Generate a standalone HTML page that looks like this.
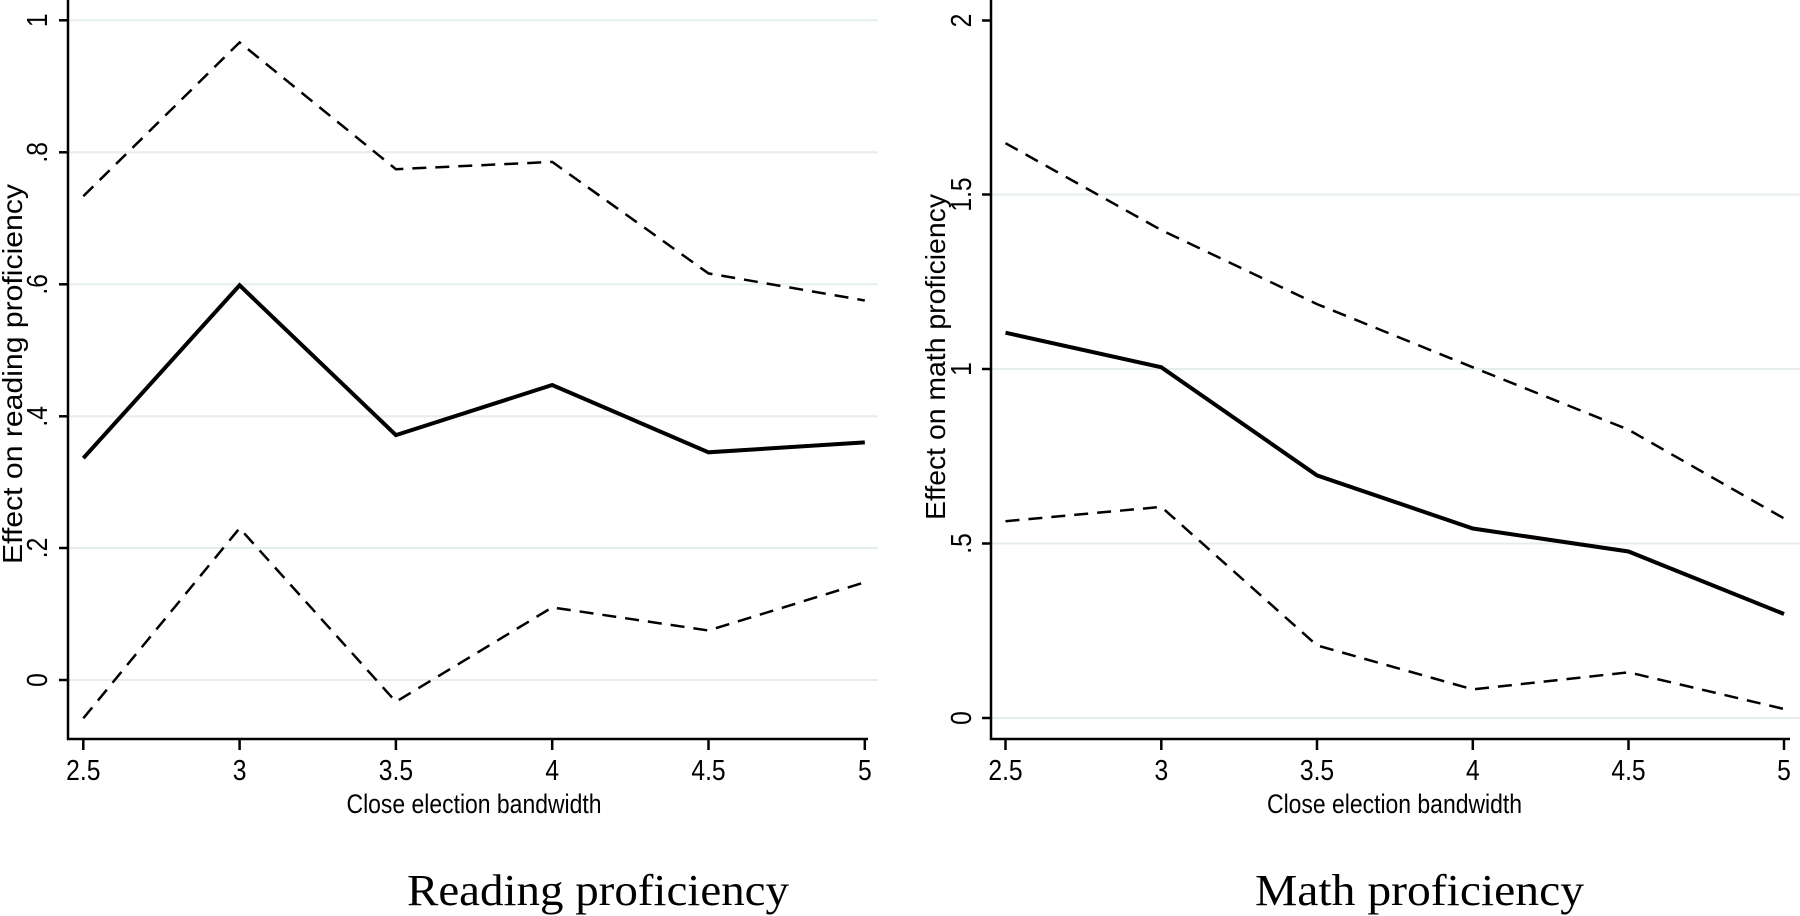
<!DOCTYPE html>
<html><head><meta charset="utf-8"><style>html,body{margin:0;padding:0;background:#fff}svg{display:block}</style></head>
<body>
<svg width="1800" height="916" viewBox="0 0 1800 916" xmlns="http://www.w3.org/2000/svg" font-family="Liberation Sans, Arial, sans-serif">
<g stroke="#e6eded" stroke-width="2">
<line x1="68" y1="20.3" x2="878" y2="20.3"/><line x1="68" y1="152.3" x2="878" y2="152.3"/><line x1="68" y1="284.3" x2="878" y2="284.3"/><line x1="68" y1="416.3" x2="878" y2="416.3"/><line x1="68" y1="548" x2="878" y2="548"/><line x1="68" y1="680" x2="878" y2="680"/>
<line x1="991" y1="194.5" x2="1800" y2="194.5"/><line x1="991" y1="369" x2="1800" y2="369"/><line x1="991" y1="543.5" x2="1800" y2="543.5"/><line x1="991" y1="718" x2="1800" y2="718"/>
</g>
<g stroke="#000" stroke-width="2.5" fill="none">
<polyline points="68,0 68,739 868,739"/>
<polyline points="991,0 991,739 1790,739"/>
<line x1="59" y1="20.3" x2="68" y2="20.3"/><line x1="59" y1="152.3" x2="68" y2="152.3"/><line x1="59" y1="284.3" x2="68" y2="284.3"/><line x1="59" y1="416.3" x2="68" y2="416.3"/><line x1="59" y1="548" x2="68" y2="548"/><line x1="59" y1="680" x2="68" y2="680"/>
<line x1="982" y1="20.5" x2="991" y2="20.5"/><line x1="982" y1="194.5" x2="991" y2="194.5"/><line x1="982" y1="369" x2="991" y2="369"/><line x1="982" y1="543.5" x2="991" y2="543.5"/><line x1="982" y1="718" x2="991" y2="718"/>
<line x1="83.3" y1="739" x2="83.3" y2="750"/><line x1="239.6" y1="739" x2="239.6" y2="750"/><line x1="395.9" y1="739" x2="395.9" y2="750"/><line x1="552.2" y1="739" x2="552.2" y2="750"/><line x1="708.5" y1="739" x2="708.5" y2="750"/><line x1="864.8" y1="739" x2="864.8" y2="750"/>
<line x1="1005.5" y1="739" x2="1005.5" y2="750"/><line x1="1161.3" y1="739" x2="1161.3" y2="750"/><line x1="1317" y1="739" x2="1317" y2="750"/><line x1="1472.8" y1="739" x2="1472.8" y2="750"/><line x1="1628.5" y1="739" x2="1628.5" y2="750"/><line x1="1784" y1="739" x2="1784" y2="750"/>
</g>
<g fill="none" stroke="#000" stroke-linejoin="miter">
<polyline stroke-width="4" points="83.3,458.2 239.6,285.3 395.9,435.1 552.2,385 708.5,452.3 864.8,442.4"/>
<polyline stroke-width="2.5" stroke-dasharray="14,9" points="83.3,196.2 239.6,42.4 395.9,169.2 552.2,161.9 708.5,273.4 864.8,300.5"/>
<polyline stroke-width="2.5" stroke-dasharray="14,9" points="83.3,718.3 239.6,528.2 395.9,701.8 552.2,607.4 708.5,630.5 864.8,582.3"/>
<polyline stroke-width="4" points="1005.5,332.7 1161.3,367.3 1317,475.4 1472.8,528.5 1628.5,551.5 1784,614"/>
<polyline stroke-width="2.5" stroke-dasharray="14,9" points="1005.5,143.2 1161.3,230.1 1317,304.1 1472.8,367.3 1628.5,429.7 1784,518.4"/>
<polyline stroke-width="2.5" stroke-dasharray="14,9" points="1005.5,521.2 1161.3,506.9 1317,645.4 1472.8,689.4 1628.5,672.3 1784,709"/>
</g>
<g font-size="29" text-anchor="middle" fill="#000">
<g transform="translate(47,0)">
<text transform="translate(0,20.3) rotate(-90) scale(0.85,1)">1</text>
<text transform="translate(0,152.3) rotate(-90) scale(0.85,1)">.8</text>
<text transform="translate(0,284.3) rotate(-90) scale(0.85,1)">.6</text>
<text transform="translate(0,416.3) rotate(-90) scale(0.85,1)">.4</text>
<text transform="translate(0,548) rotate(-90) scale(0.85,1)">.2</text>
<text transform="translate(0,680) rotate(-90) scale(0.85,1)">0</text>
</g>
<g transform="translate(971,0)">
<text transform="translate(0,20.5) rotate(-90) scale(0.85,1)">2</text>
<text transform="translate(0,194.5) rotate(-90) scale(0.85,1)">1.5</text>
<text transform="translate(0,369) rotate(-90) scale(0.85,1)">1</text>
<text transform="translate(0,543.5) rotate(-90) scale(0.85,1)">.5</text>
<text transform="translate(0,718) rotate(-90) scale(0.85,1)">0</text>
</g>
<g transform="translate(0,780)">
<text transform="translate(83.3,0) scale(0.85,1)">2.5</text>
<text transform="translate(239.6,0) scale(0.85,1)">3</text>
<text transform="translate(395.9,0) scale(0.85,1)">3.5</text>
<text transform="translate(552.2,0) scale(0.85,1)">4</text>
<text transform="translate(708.5,0) scale(0.85,1)">4.5</text>
<text transform="translate(864.8,0) scale(0.85,1)">5</text>
<text transform="translate(1005.5,0) scale(0.85,1)">2.5</text>
<text transform="translate(1161.3,0) scale(0.85,1)">3</text>
<text transform="translate(1317,0) scale(0.85,1)">3.5</text>
<text transform="translate(1472.8,0) scale(0.85,1)">4</text>
<text transform="translate(1628.5,0) scale(0.85,1)">4.5</text>
<text transform="translate(1784,0) scale(0.85,1)">5</text>
</g>
<text x="474" y="813" font-size="27" textLength="255" lengthAdjust="spacingAndGlyphs">Close election bandwidth</text>
<text x="1394.5" y="813" font-size="27" textLength="255" lengthAdjust="spacingAndGlyphs">Close election bandwidth</text>
<text transform="translate(22,374) rotate(-90)" font-size="28" textLength="380" lengthAdjust="spacingAndGlyphs">Effect on reading proficiency</text>
<text transform="translate(945,357) rotate(-90)" font-size="28" textLength="326" lengthAdjust="spacingAndGlyphs">Effect on math proficiency</text>
<text x="598" y="905" font-family="Liberation Serif, serif" font-size="44" textLength="382" lengthAdjust="spacingAndGlyphs">Reading proficiency</text>
<text x="1419.5" y="905" font-family="Liberation Serif, serif" font-size="44" textLength="329" lengthAdjust="spacingAndGlyphs">Math proficiency</text>
</g>
</svg>
</body></html>
